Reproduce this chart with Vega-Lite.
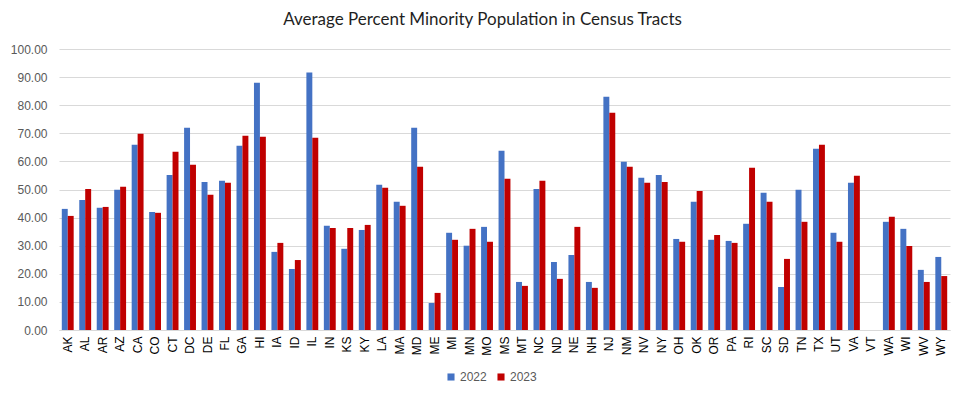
{
  "$schema": "https://vega.github.io/schema/vega-lite/v6.json",
  "autosize": "none",
  "width": 891,
  "height": 281,
  "padding": {"left": 59, "top": 49, "right": 14, "bottom": 68},
  "background": "white",
  "title": {
    "text": "Average Percent Minority Population in Census Tracts",
    "font": "Lato",
    "fontSize": 17,
    "fontWeight": "normal",
    "color": "#1f1f1f",
    "anchor": "middle",
    "dx": -22,
    "offset": 14
  },
  "config": {
    "view": {"stroke": null},
    "axis": {"labelFont": "Liberation Sans", "labelFontSize": 12, "labelColor": "#595959"}
  },
  "data": {
    "values": [
      {"state": "AK", "y2022": 43.1, "y2023": 40.6},
      {"state": "AL", "y2022": 46.3, "y2023": 50.2},
      {"state": "AR", "y2022": 43.5, "y2023": 43.8},
      {"state": "AZ", "y2022": 49.9, "y2023": 51.0},
      {"state": "CA", "y2022": 65.9, "y2023": 69.8},
      {"state": "CO", "y2022": 42.0, "y2023": 41.7},
      {"state": "CT", "y2022": 55.2, "y2023": 63.4},
      {"state": "DC", "y2022": 72.0, "y2023": 58.8},
      {"state": "DE", "y2022": 52.7, "y2023": 48.1},
      {"state": "FL", "y2022": 53.1, "y2023": 52.4},
      {"state": "GA", "y2022": 65.6, "y2023": 69.1},
      {"state": "HI", "y2022": 88.0, "y2023": 68.8},
      {"state": "IA", "y2022": 27.8, "y2023": 31.0},
      {"state": "ID", "y2022": 21.7, "y2023": 24.9},
      {"state": "IL", "y2022": 91.6, "y2023": 68.4},
      {"state": "IN", "y2022": 37.1, "y2023": 36.3},
      {"state": "KS", "y2022": 28.9, "y2023": 36.3},
      {"state": "KY", "y2022": 35.6, "y2023": 37.4},
      {"state": "LA", "y2022": 51.7, "y2023": 50.6},
      {"state": "MA", "y2022": 45.6, "y2023": 44.2},
      {"state": "MD", "y2022": 72.0, "y2023": 58.1},
      {"state": "ME", "y2022": 9.6, "y2023": 13.2},
      {"state": "MI", "y2022": 34.6, "y2023": 32.1},
      {"state": "MN", "y2022": 30.0, "y2023": 36.0},
      {"state": "MO", "y2022": 36.7, "y2023": 31.4},
      {"state": "MS", "y2022": 63.8, "y2023": 53.8},
      {"state": "MT", "y2022": 17.1, "y2023": 15.7},
      {"state": "NC", "y2022": 50.2, "y2023": 53.1},
      {"state": "ND", "y2022": 24.2, "y2023": 18.2},
      {"state": "NE", "y2022": 26.7, "y2023": 36.7},
      {"state": "NH", "y2022": 17.1, "y2023": 15.0},
      {"state": "NJ", "y2022": 83.0, "y2023": 77.3},
      {"state": "NM", "y2022": 59.9, "y2023": 58.1},
      {"state": "NV", "y2022": 54.2, "y2023": 52.4},
      {"state": "NY", "y2022": 55.2, "y2023": 52.7},
      {"state": "OH", "y2022": 32.4, "y2023": 31.4},
      {"state": "OK", "y2022": 45.6, "y2023": 49.5},
      {"state": "OR", "y2022": 32.1, "y2023": 33.8},
      {"state": "PA", "y2022": 31.7, "y2023": 31.0},
      {"state": "RI", "y2022": 37.8, "y2023": 57.7},
      {"state": "SC", "y2022": 48.8, "y2023": 45.6},
      {"state": "SD", "y2022": 15.3, "y2023": 25.3},
      {"state": "TN", "y2022": 49.9, "y2023": 38.5},
      {"state": "TX", "y2022": 64.5, "y2023": 65.9},
      {"state": "UT", "y2022": 34.6, "y2023": 31.4},
      {"state": "VA", "y2022": 52.4, "y2023": 54.9},
      {"state": "VT", "y2022": null, "y2023": null},
      {"state": "WA", "y2022": 38.5, "y2023": 40.3},
      {"state": "WI", "y2022": 36.0, "y2023": 29.9},
      {"state": "WV", "y2022": 21.4, "y2023": 17.1},
      {"state": "WY", "y2022": 26.0, "y2023": 19.2}
    ]
  },
  "transform": [
    {"fold": ["y2022", "y2023"], "as": ["key", "value"]},
    {"calculate": "substring(datum.key, 1)", "as": "year"}
  ],
  "mark": {"type": "bar"},
  "encoding": {
    "x": {
      "field": "state",
      "type": "nominal",
      "sort": null,
      "scale": {
        "domain": ["AK","AL","AR","AZ","CA","CO","CT","DC","DE","FL","GA","HI","IA","ID","IL","IN","KS","KY","LA","MA","MD","ME","MI","MN","MO","MS","MT","NC","ND","NE","NH","NJ","NM","NV","NY","OH","OK","OR","PA","RI","SC","SD","TN","TX","UT","VA","VT","WA","WI","WV","WY"],
        "paddingInner": 0.32,
        "paddingOuter": 0.16
      },
      "axis": {
        "title": null,
        "labelAngle": -90,
        "labelAlign": "right",
        "labelBaseline": "middle",
        "labelPadding": 6,
        "ticks": false,
        "domainColor": "#D9D9D9",
        "domainWidth": 1,
        "grid": false,
        "labelColor": "#000000"
      }
    },
    "xOffset": {"field": "year", "type": "nominal", "scale": {"paddingInner": 0, "paddingOuter": 0}},
    "y": {
      "field": "value",
      "type": "quantitative",
      "scale": {"domain": [0, 100], "nice": false},
      "axis": {
        "title": null,
        "format": ".2f",
        "values": [0,10,20,30,40,50,60,70,80,90,100],
        "domain": false,
        "ticks": false,
        "labelPadding": 12,
        "gridColor": "#D9D9D9",
        "gridWidth": 1
      }
    },
    "color": {
      "field": "year",
      "type": "nominal",
      "scale": {"domain": ["2022", "2023"], "range": ["#4472C4", "#C00000"]},
      "legend": {
        "title": null,
        "orient": "none",
        "direction": "horizontal",
        "legendX": 386,
        "legendY": 322,
        "symbolType": "square",
        "symbolSize": 50,
        "symbolStrokeWidth": 0,
        "labelFont": "Liberation Sans",
        "labelFontSize": 12,
        "labelColor": "#595959",
        "columnPadding": 8,
        "labelOffset": 3
      }
    }
  }
}
